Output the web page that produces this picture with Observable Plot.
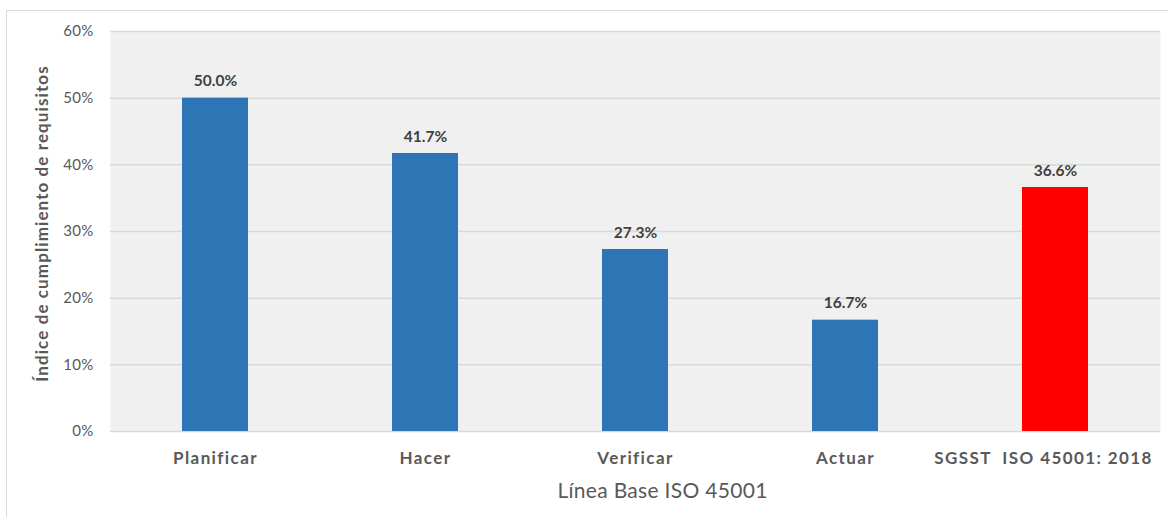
<!DOCTYPE html>
<html>
<head>
<meta charset="utf-8">
<script src="https://cdn.jsdelivr.net/npm/d3@7"></script>
<script src="https://cdn.jsdelivr.net/npm/@observablehq/plot@0.6"></script>
<style>
  html, body { margin: 0; padding: 0; background: #fff; }
  #wrap { position: relative; width: 1168px; height: 517px; overflow: hidden; }
  #frame { position: absolute; left: 6px; top: 10px; right: -2px; bottom: -2px;
           border-left: 1px solid #d9d9d9; border-top: 1px solid #d9d9d9; }
  #chart { position: absolute; left: 0; top: 0; }
  /* wide tracking on the category labels and axis titles */
  #chart g[aria-label="x-axis tick label"] text { letter-spacing: 1.4px; }
  #chart g[aria-label="y-axis tick label"] text { letter-spacing: 0.3px; }
  #chart .x-title text { letter-spacing: 0.3px; }
  #chart .y-title text { letter-spacing: 1.1px; }
</style>
</head>
<body>
<div id="wrap"><div id="frame"></div><div id="chart"></div></div>
<script>
// PHVA phases of the ISO 45001 baseline and the overall SGSST result
const categories = ["Planificar", "Hacer", "Verificar", "Actuar", "SGSST  ISO 45001: 2018"];
const values = [50.0, 41.7, 27.3, 16.7, 36.6];
const barColors = ["#2e75b6", "#2e75b6", "#2e75b6", "#2e75b6", "#ff0000"];
const yTicks = [0, 10, 20, 30, 40, 50, 60];
const yTitle = "Índice de cumplimiento de requisitos";
const xTitle = "Línea Base ISO 45001";

const data = categories.map((c, i) => ({cat: c, value: values[i], color: barColors[i]}));

const font = "Lato, 'Open Sans', sans-serif";

const chart = Plot.plot({
  width: 1168,
  height: 517,
  marginLeft: 110,
  marginRight: 8,
  marginTop: 31,
  marginBottom: 86,
  style: {fontFamily: font, background: "transparent"},
  x: {domain: categories, paddingInner: 0.686, paddingOuter: 0.343},
  y: {domain: [0, 60]},
  marks: [
    Plot.frame({fill: "#f0f0f0", stroke: null}),
    Plot.gridY(yTicks, {stroke: "#d9d9d9", strokeOpacity: 1, strokeWidth: 1.5}),
    Plot.axisY(yTicks, {
      tickSize: 0, tickPadding: 17, label: null,
      tickFormat: d => d + "%", fontSize: 15, fill: "#595959"
    }),
    Plot.axisX({
      tickSize: 0, tickPadding: 20, label: null,
      fontSize: 17, fontWeight: "bold", fill: "#595959"
    }),
    Plot.barY(data, {x: "cat", y: "value", fill: "color"}),
    Plot.text(data, {
      x: "cat", y: "value", text: d => d.value.toFixed(1) + "%",
      lineAnchor: "bottom", dy: -12, fontSize: 15.5, fontWeight: "bold", fill: "#404040"
    }),
    Plot.text([xTitle], {
      frameAnchor: "bottom", dx: 27, dy: 66, fontSize: 21, fill: "#595959",
      className: "x-title"
    }),
    Plot.text([yTitle], {
      frameAnchor: "left", rotate: -90, textAnchor: "middle", dx: -68, dy: -8,
      fontSize: 17, fontWeight: "bold", fill: "#595959", className: "y-title"
    })
  ]
});

// the long summary label sits a little left of its bar so it stays inside the frame
const xLabels = chart.querySelectorAll('g[aria-label="x-axis tick label"] text');
if (xLabels.length) xLabels[xLabels.length - 1].setAttribute("dx", "-12");

document.getElementById("chart").appendChild(chart);
</script>
</body>
</html>
